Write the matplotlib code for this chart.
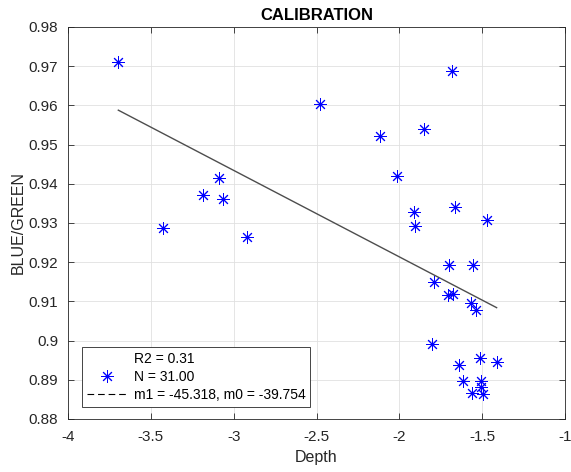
import matplotlib
matplotlib.use('Agg')
import matplotlib.pyplot as plt
from matplotlib.lines import Line2D
import numpy as np

plt.rcParams['font.family'] = ['Liberation Sans', 'DejaVu Sans']

# data
depth = [-3.696, -3.424, -3.183, -3.089, -3.067, -2.920,
         -2.478, -1.683, -2.118, -1.849, -2.014, -1.912, -1.907, -1.667, -1.474,
         -1.701, -1.556, -1.789, -1.707, -1.677, -1.569, -1.538,
         -1.804, -1.512, -1.413, -1.639, -1.615, -1.508, -1.508, -1.562, -1.497]
ratio = [0.9711, 0.9287, 0.9371, 0.9415, 0.9360, 0.9264,
         0.9603, 0.9689, 0.9523, 0.9539, 0.9419, 0.9328, 0.9293, 0.9340, 0.9308,
         0.9193, 0.9193, 0.9149, 0.9117, 0.9118, 0.9095, 0.9077,
         0.8992, 0.8956, 0.8945, 0.8938, 0.8898, 0.8896, 0.8882, 0.8867, 0.8865]

r2 = 0.31
m1 = -45.318
m0 = -39.754

xticks = [-4, -3.5, -3, -2.5, -2, -1.5, -1]
yticks = [0.88, 0.89, 0.90, 0.91, 0.92, 0.93, 0.94, 0.95, 0.96, 0.97, 0.98]

dark = (0.15, 0.15, 0.15)

fig = plt.figure(figsize=(5.71, 4.72), dpi=100)
ax = fig.add_axes([0.119, 0.1123, 0.8706, 0.8305])

star = (8, 2, 0)
ax.plot(depth, ratio, linestyle='none', marker=star, markersize=9,
        markeredgewidth=0.7, color=(0, 0, 1), zorder=3)

# fit line over data range
xl = np.array([min(depth), max(depth)])
ax.plot(xl, (xl + m0) / m1, color=(0.3, 0.3, 0.3), linewidth=1, zorder=2)

ax.set_xlim(-4, -1)
ax.set_ylim(0.88, 0.98)
ax.set_xticks(xticks)
ax.set_yticks(yticks)
ax.set_xticklabels(['%g' % v for v in xticks])
ax.set_yticklabels(['%g' % v for v in yticks])
ax.tick_params(direction='in', top=True, right=True, length=4, width=0.6,
               colors=dark, labelsize=11)
ax.tick_params(axis='x', pad=8)
ax.tick_params(axis='y', pad=7)
ax.grid(True, color=(0.88, 0.88, 0.88), linewidth=0.6)
ax.set_axisbelow(True)
for s in ax.spines.values():
    s.set_color(dark)
    s.set_linewidth(0.6)

ax.set_title('CALIBRATION', fontsize=12, fontweight='bold', pad=5)
ax.set_xlabel('Depth', fontsize=11.5, color=dark, labelpad=4)
ax.set_ylabel('BLUE/GREEN', fontsize=11.5, color=dark, labelpad=2)

handles = [Line2D([], [], linestyle='none'),
           Line2D([], [], linestyle='none', marker=star, markersize=9,
                  markeredgewidth=0.7, color=(0, 0, 1)),
           Line2D([], [], linestyle=(0, (6, 3.5)), color='black', linewidth=0.8)]
labels = ['R2 = %.2f' % r2, 'N = %.2f' % len(depth),
          'm1 = %.3f, m0 = %.3f' % (m1, m0)]
leg = ax.legend(handles, labels, loc='lower left',
                bbox_to_anchor=(0.0276, 0.0306), borderaxespad=0,
                fancybox=False, fontsize=10, handlelength=2.9,
                handletextpad=0.5, labelspacing=0.3, borderpad=0.35,
                framealpha=1)
leg.get_frame().set_edgecolor(dark)
leg.get_frame().set_linewidth(0.6)

plt.savefig('out.png', dpi=100)
